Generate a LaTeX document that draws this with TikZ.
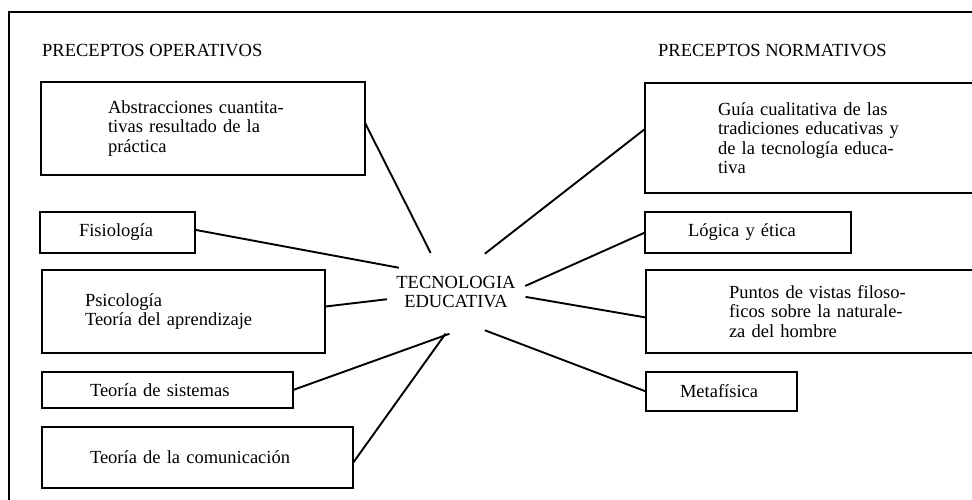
\documentclass[tikz,border=0pt]{standalone}
\usepackage{fontspec}
\setmainfont{Liberation Serif}
\usetikzlibrary{shapes.geometric}

\tikzset{
  caja/.style={draw, line width=1.9pt, anchor=north west, align=left, outer sep=0pt, inner ysep=0pt},
  enlace/.style={line width=1.9pt},
  titulo/.style={anchor=west, inner sep=0pt},
}

\begin{document}
\begin{tikzpicture}[x=1pt, y=-1pt, font=\fontsize{18.5}{19.5}\selectfont]
  \clip (0,0) rectangle (972,500);
  \draw[line width=2.6pt] (972,12) -- (9,12) -- (9,500);

  \node[titulo] (operativos) at (42,51) {PRECEPTOS OPERATIVOS};
  \node[titulo] (normativos) at (658,51) {PRECEPTOS NORMATIVOS};

  \node[caja, inner xsep=67pt, text width=190pt, minimum height=93pt] (abstr) at (41,82) {Abstracciones cuantita-\\tivas resultado de la\\práctica};
  \node[caja, inner xsep=39pt, text width=77pt, minimum height=41pt] (fisio) at (40,212) {Fisiología};
  \node[caja, inner xsep=43pt, text width=197pt, minimum height=83pt] (psico) at (42,270) {Psicología\\Teoría del aprendizaje};
  \node[caja, inner xsep=48pt, text width=155pt, minimum height=36pt] (sist) at (42,372) {Teoría de sistemas};
  \node[caja, inner xsep=48pt, text width=215pt, minimum height=61pt] (comun) at (42,427) {Teoría de la comunicación};

  \node[caja, inner xsep=73pt, text width=199pt, minimum height=110pt] (guia) at (645,83) {Guía cualitativa de las\\tradiciones educativas y\\de la tecnología educa-\\tiva};
  \node[caja, inner xsep=43pt, text width=120pt, minimum height=41pt] (logica) at (645,212) {Lógica y ética};
  \node[caja, inner xsep=83pt, text width=179pt, minimum height=83pt] (puntos) at (646,270) {Puntos de vistas filoso-\\ficos sobre la naturale-\\za del hombre};
  \node[caja, inner xsep=34pt, text width=83pt, minimum height=39pt] (meta) at (646,372) {Metafísica};

  \node[ellipse, minimum width=140pt, minimum height=84pt, inner sep=0pt, outer sep=0pt,
    label={[align=center]center:TECNOLOGIA\\EDUCATIVA}] (tecno) at (456,292) {};

  \draw[enlace] (abstr.2) -- (tecno.123);
  \draw[enlace] (fisio.2) -- (tecno.157);
  \draw[enlace] (psico.2) -- (tecno.186);
  \draw[enlace] (sist.east) -- (tecno.261);
  \draw[enlace] (comun.-2) -- (tecno.256);
  \draw[enlace] (guia.177) -- (tecno.53);
  \draw[enlace] (logica.west) -- (tecno.5);
  \draw[enlace] (puntos.182) -- (tecno.356);
  \draw[enlace] (meta.west) -- (tecno.307);
\end{tikzpicture}
\end{document}
